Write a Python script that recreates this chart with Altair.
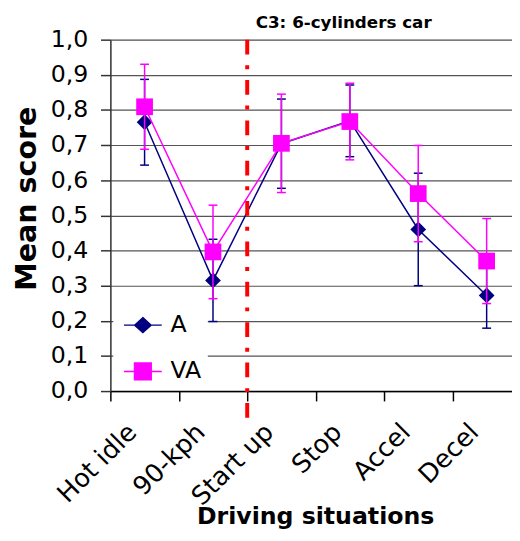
import altair as alt
import pandas as pd

# ---- data ----
categories = ["Hot idle", "90-kph", "Start up", "Stop", "Accel", "Decel"]
series_names = ["A", "VA"]
a_mean = [0.765, 0.315, 0.704, 0.769, 0.460, 0.272]
a_err = [0.122, 0.117, 0.127, 0.102, 0.160, 0.093]
va_mean = [0.809, 0.396, 0.705, 0.767, 0.562, 0.370]
va_err = [0.121, 0.133, 0.140, 0.109, 0.137, 0.121]
y_ticks = [0.0, 0.1, 0.2, 0.3, 0.4, 0.5, 0.6, 0.7, 0.8, 0.9, 1.0]
divider_category = ["Start up"]
chart_title = "C3: 6-cylinders car"

NAVY = "#000080"
MAGENTA = "#FF00FF"
RED = "#FF0000"

rows = []
for name, means, errs in (("A", a_mean, a_err), ("VA", va_mean, va_err)):
    for c, m, e in zip(categories, means, errs):
        rows.append({"cat": c, "series": name, "mean": m, "lo": m - e, "hi": m + e})
df = pd.DataFrame(rows)
div_df = pd.DataFrame({"cat": divider_category})

W, H = 408, 357
BAND = 69.5

x_scale = alt.Scale(type="band", domain=categories, range=[0, BAND * len(categories)],
                    paddingInner=0, paddingOuter=0)
x_axis = alt.Axis(
    title="Driving situations", labelAngle=-45, labelFont="DejaVu Sans", labelFontSize=26,
    labelColor="black", tickOffset=-BAND / 2, labelOffset=BAND / 2 - 22, tickSize=10,
    tickColor="black", tickWidth=1.5, domainColor="black", domainWidth=1.5,
    titleFont="DejaVu Sans", titleFontSize=24, titleFontWeight="bold", titleColor="black",
    titleBaseline="alphabetic", titleY=135, titleX=W / 2 + 4,
    labelPadding=18, grid=False, labelOverlap=False,
)
y_scale = alt.Scale(domain=[0, 1], nice=False, zero=True)
y_axis = alt.Axis(
    values=y_ticks, tickCount=20, labelOverlap=False,
    labelExpr="replace(format(datum.value, '.1f'), '.', ',')",
    labelFont="DejaVu Sans", labelFontSize=24, labelColor="black", labelPadding=13,
    grid=True, gridColor="#555555", gridWidth=1.2, tickSize=10, tickColor="#333333",
    tickWidth=1.5, domainColor="#333333", domainWidth=1.5,
    title="Mean score", titleFont="DejaVu Sans", titleFontSize=29,
    titleFontWeight="bold", titleColor="black", titlePadding=9, titleY=161,
)

X = alt.X("cat:N", scale=x_scale, axis=x_axis)


def Y(field):
    return alt.Y(field, scale=y_scale, axis=y_axis)


base = alt.Chart(df)


def series_layers(name, color, shape, size):
    d = base.transform_filter(alt.datum.series == name)
    line = d.mark_line(color=color, strokeWidth=1.5).encode(x=X, y=Y("mean:Q"))
    bar = d.mark_rule(color=color, strokeWidth=1.5).encode(x=X, y=Y("lo:Q"), y2="hi:Q")
    cap_lo = d.mark_tick(color=color, size=9, thickness=1.5, opacity=1).encode(x=X, y=Y("lo:Q"))
    cap_hi = d.mark_tick(color=color, size=9, thickness=1.5, opacity=1).encode(x=X, y=Y("hi:Q"))
    pts = d.mark_point(filled=True, shape=shape, size=size, color=color, opacity=1,
                       strokeWidth=0).encode(x=X, y=Y("mean:Q"))
    return [line, bar, cap_lo, cap_hi, pts]


diamond_path = "M-2.4,0L2.4,0M0,-0.95L1.04,0L0,0.95L-1.04,0Z"
square_path = "M-2.4,0L2.4,0M-1.06,-1.06L1.06,-1.06L1.06,1.06L-1.06,1.06Z"

leg = alt.Legend(
    title=None, orient="none", legendX=3, legendY=272, fillColor="white", padding=6,
    symbolSize=256, symbolStrokeWidth=1.5, symbolOffset=12, labelOffset=16,
    labelFont="DejaVu Sans", labelFontSize=24, labelColor="black", rowPadding=23,
)
legend_layer = base.transform_filter("false").mark_point(filled=True, opacity=1, strokeWidth=1.5).encode(
    fill=alt.Fill("series:N", scale=alt.Scale(domain=series_names, range=[NAVY, MAGENTA]), legend=leg),
    stroke=alt.Stroke("series:N", scale=alt.Scale(domain=series_names, range=[NAVY, MAGENTA]), legend=leg),
    shape=alt.Shape("series:N", scale=alt.Scale(domain=series_names, range=[diamond_path, square_path]), legend=leg),
)

divider = alt.Chart(div_df).mark_rule(color=RED, strokeWidth=4, strokeDash=[15, 11, 4, 11],
                                      clip=False).encode(
    x=alt.X("cat:N", scale=x_scale, bandPosition=0),
    y=alt.value(0), y2=alt.value(H + 33))

layers = series_layers("A", NAVY, "diamond", 256) + \
    series_layers("VA", MAGENTA, "square", 289) + [legend_layer, divider]

chart = alt.layer(*layers).properties(
    width=W, height=H,
    title=alt.TitleParams(chart_title, font="DejaVu Sans", fontSize=17, fontWeight="bold",
                          color="black", anchor="middle", dx=33, dy=9, offset=5),
    autosize=alt.AutoSizeParams(type="none"),
    padding={"left": 104, "top": 28, "right": 0, "bottom": 140},
).configure_view(strokeWidth=0).configure(background="white")

chart.save("out.html", embed_options={"renderer": "svg", "actions": False})
